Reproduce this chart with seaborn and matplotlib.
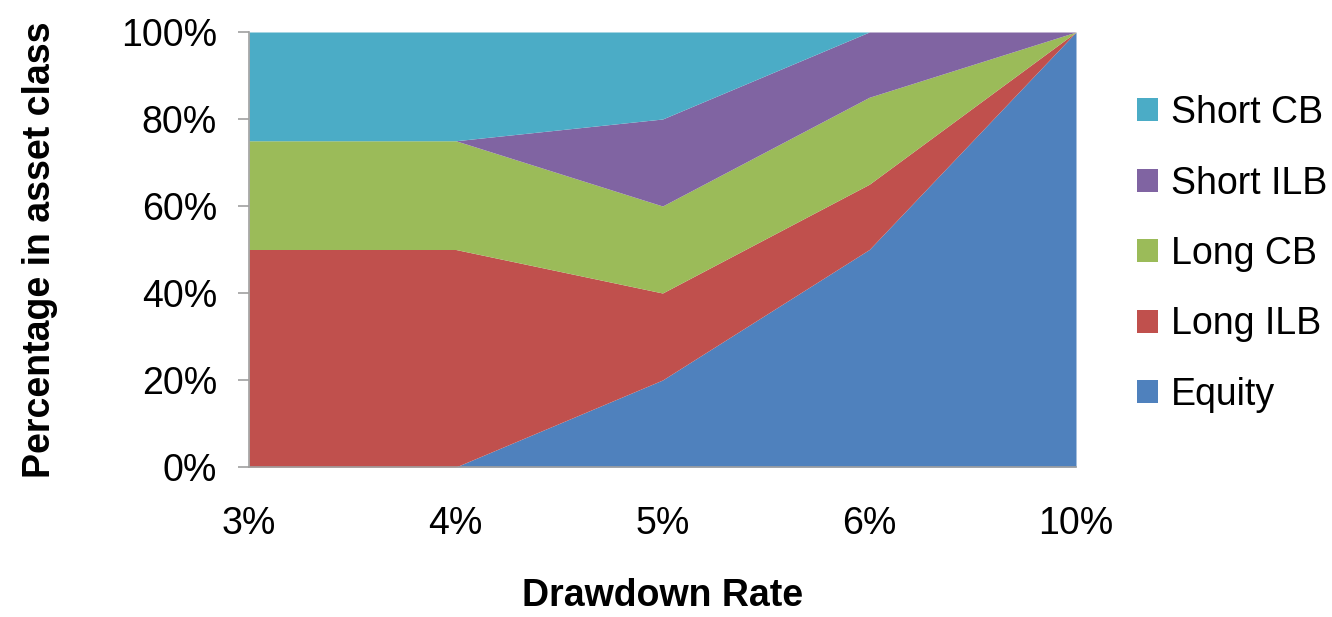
import matplotlib
matplotlib.use("Agg")
import matplotlib.pyplot as plt
import seaborn as sns
import numpy as np
from matplotlib.patches import Patch

categories = ["3%", "4%", "5%", "6%", "10%"]
equity = [0, 0, 20, 50, 100]
long_ilb = [50, 50, 20, 15, 0]
long_cb = [25, 25, 20, 20, 0]
short_ilb = [0, 0, 20, 15, 0]
short_cb = [25, 25, 20, 0, 0]
series_names = ["Equity", "Long ILB", "Long CB", "Short ILB", "Short CB"]
colors = ["#4F81BD", "#C0504D", "#9BBB59", "#8064A2", "#4BACC6"]
y_ticks = [0, 20, 40, 60, 80, 100]

sns.set_theme(style="white")
plt.rcParams['font.family'] = ['Liberation Sans', 'DejaVu Sans']
plt.rcParams['text.color'] = 'black'
plt.rcParams['axes.labelcolor'] = 'black'
plt.rcParams['xtick.color'] = 'black'
plt.rcParams['ytick.color'] = 'black'

FS = 27

fig = plt.figure(figsize=(13.32, 6.17), dpi=100)
ax = fig.add_axes([249/1332, 1-467/617, (1076-249)/1332, (467-32)/617])

x = np.arange(len(categories))
ax.stackplot(x, equity, long_ilb, long_cb, short_ilb, short_cb,
             colors=colors, labels=series_names, linewidth=0)

ax.set_xlim(0, len(categories)-1)
ax.set_ylim(0, 100)
ax.set_xticks(x)
ax.set_xticklabels(categories, fontsize=FS)
ax.set_yticks(y_ticks)
ax.set_yticklabels([f"{v}%" for v in y_ticks], fontsize=FS)
ax.tick_params(axis='y', length=8, width=1.2, color="#A0A0A0", labelcolor='black',
               direction='out', pad=15, left=True)
ax.tick_params(axis='x', length=0, pad=28, labelcolor='black')

for s in ["top", "right"]:
    ax.spines[s].set_visible(False)
for s in ["left", "bottom"]:
    ax.spines[s].set_color("#A0A0A0")
    ax.spines[s].set_linewidth(1.2)

ax.set_xlabel("Drawdown Rate", fontsize=FS, fontweight="bold", labelpad=26, color='black')
ax.set_ylabel("Percentage in asset class", fontsize=FS, fontweight="bold", labelpad=45, color='black')

handles = [Patch(facecolor=c, edgecolor='none') for c in colors][::-1]
labels = series_names[::-1]
leg = fig.legend(handles, labels, loc="upper left", bbox_to_anchor=(1122/1332, 1-80/617),
                 frameon=False, fontsize=FS, handlelength=0.56, handleheight=0.56,
                 handletextpad=0.35, labelspacing=0.92, borderaxespad=0)
for t in leg.get_texts():
    t.set_color('black')

fig.savefig("out.png", dpi=100)
